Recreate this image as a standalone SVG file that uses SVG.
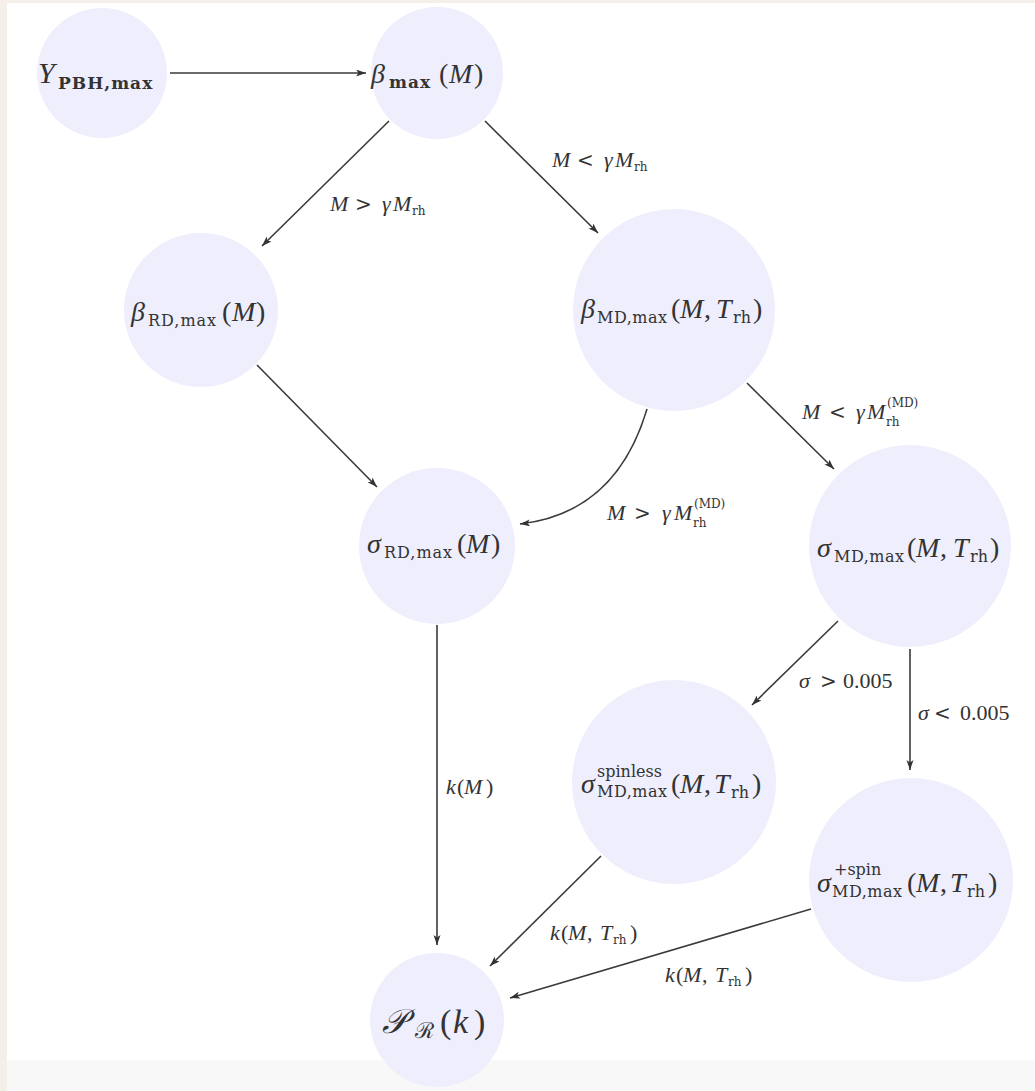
<svg xmlns="http://www.w3.org/2000/svg" width="1035" height="1091" viewBox="0 0 1035 1091">
<style>
.node{fill:#eeeefd}
.edge{fill:none;stroke:#3a3a3a;stroke-width:1.6}
text{font-family:"Liberation Serif","DejaVu Serif",serif;fill:#333}
.nl{font-size:28px}
.el{font-size:22px}
.i{font-style:italic}
.rel{font-family:"DejaVu Serif","Liberation Serif",serif;font-size:20px}
.s{font-family:"DejaVu Serif","Liberation Serif",serif;font-size:16px;font-style:normal}
.sb{font-family:"DejaVu Serif","Liberation Serif",serif;font-size:17px;font-style:normal;font-weight:bold}
.es{font-family:"DejaVu Serif","Liberation Serif",serif;font-size:12px;font-style:normal}
</style>
<defs>
<marker id="arr" markerUnits="userSpaceOnUse" markerWidth="11" markerHeight="8" refX="10" refY="3.5" orient="auto">
<path d="M0,0 L10,3.5 L0,7 L2.5,3.5 z" fill="#333"/>
</marker>
</defs>
<rect x="0" y="0" width="1035" height="1091" fill="#f4f0e9"/>
<rect x="7" y="3" width="1028" height="1057" fill="#ffffff"/>
<rect x="7" y="1060" width="1028" height="31" fill="#f8f8f8"/>

<g id="connectors">
<path class="edge" d="M170,73 L366,73" marker-end="url(#arr)"/>
<path class="edge" d="M389,121 L262,246" marker-end="url(#arr)"/>
<path class="edge" d="M485,121 L598,233" marker-end="url(#arr)"/>
<path class="edge" d="M257,365 L377,487" marker-end="url(#arr)"/>
<path class="edge" d="M647,409 Q616,513 520,524" marker-end="url(#arr)"/>
<path class="edge" d="M747,383 L834,469" marker-end="url(#arr)"/>
<path class="edge" d="M437,625 L437,945" marker-end="url(#arr)"/>
<path class="edge" d="M838,621 L752,705" marker-end="url(#arr)"/>
<path class="edge" d="M910,649 L910,770" marker-end="url(#arr)"/>
<path class="edge" d="M601,856 L490,966" marker-end="url(#arr)"/>
<path class="edge" d="M811,909 L510,998" marker-end="url(#arr)"/>
<text class="el" x="330" y="211"><tspan class="i">M</tspan><tspan class="rel" x="355">&gt;</tspan><tspan class="i" x="382">γ</tspan><tspan class="i" x="393">M</tspan><tspan class="es" x="412" dy="4">rh</tspan></text>
<text class="el" x="552" y="167"><tspan class="i">M</tspan><tspan class="rel" x="577">&lt;</tspan><tspan class="i" x="604">γ</tspan><tspan class="i" x="615">M</tspan><tspan class="es" x="634" dy="4">rh</tspan></text>
<text class="el" x="802" y="419"><tspan class="i">M</tspan><tspan class="rel" x="829">&lt;</tspan><tspan class="i" x="856">γ</tspan><tspan class="i" x="867">M</tspan><tspan class="es" x="886" dy="7">rh</tspan><tspan class="es" x="887" dy="-19">(MD)</tspan></text>
<text class="el" x="607" y="520"><tspan class="i">M</tspan><tspan class="rel" x="634">&gt;</tspan><tspan class="i" x="662">γ</tspan><tspan class="i" x="674">M</tspan><tspan class="es" x="693" dy="7">rh</tspan><tspan class="es" x="694" dy="-19">(MD)</tspan></text>
<text class="el" x="446" y="794"><tspan class="i">k</tspan><tspan x="457">(</tspan><tspan class="i" x="464">M</tspan><tspan x="486">)</tspan></text>
<text class="el" x="799" y="688"><tspan class="i">σ</tspan><tspan class="rel" x="820">&gt;</tspan><tspan x="843">0.005</tspan></text>
<text class="el" x="918" y="720"><tspan class="i">σ</tspan><tspan class="rel" x="934">&lt;</tspan><tspan x="960">0.005</tspan></text>
<text class="el" x="550" y="940"><tspan class="i">k</tspan><tspan x="561">(</tspan><tspan class="i" x="568">M</tspan><tspan x="587">,</tspan><tspan class="i" x="600">T</tspan><tspan class="es" x="613" dy="4">rh</tspan><tspan x="630" dy="-4">)</tspan></text>
<text class="el" x="665" y="982"><tspan class="i">k</tspan><tspan x="676">(</tspan><tspan class="i" x="683">M</tspan><tspan x="702">,</tspan><tspan class="i" x="715">T</tspan><tspan class="es" x="728" dy="4">rh</tspan><tspan x="745" dy="-4">)</tspan></text>
</g>

<g id="node-ypbh">
<circle class="node" cx="102" cy="73" r="65"/>
<text class="nl" x="38" y="83"><tspan class="i" font-size="30">Y</tspan><tspan class="sb" x="58" dy="6" letter-spacing="1">PBH,max</tspan></text>
</g>
<g id="node-beta-max">
<circle class="node" cx="437" cy="73" r="66"/>
<text class="nl" x="371" y="83"><tspan class="i">β</tspan><tspan class="sb" x="389" dy="5" letter-spacing="1">max</tspan><tspan x="439" dy="-5">(</tspan><tspan class="i" x="449">M</tspan><tspan x="474">)</tspan></text>
</g>
<g id="node-beta-rd">
<circle class="node" cx="201" cy="310" r="77"/>
<text class="nl" x="131" y="321"><tspan class="i">β</tspan><tspan class="s" x="148" dy="5" letter-spacing="1">RD,max</tspan><tspan x="222" dy="-5">(</tspan><tspan class="i" x="232">M</tspan><tspan x="256">)</tspan></text>
</g>
<g id="node-beta-md">
<circle class="node" cx="674" cy="310" r="101"/>
<text class="nl" x="581" y="318"><tspan class="i">β</tspan><tspan class="s" x="597" dy="5" letter-spacing="0.5">MD,max</tspan><tspan x="671" dy="-5">(</tspan><tspan class="i" x="680">M</tspan><tspan x="704">,</tspan><tspan class="i" x="716">T</tspan><tspan class="s" x="733" dy="5">rh</tspan><tspan x="753" dy="-5">)</tspan></text>
</g>
<g id="node-sigma-rd">
<circle class="node" cx="437" cy="546" r="78"/>
<text class="nl" x="367" y="553"><tspan class="i">σ</tspan><tspan class="s" x="384" dy="5" letter-spacing="1">RD,max</tspan><tspan x="457" dy="-5">(</tspan><tspan class="i" x="466">M</tspan><tspan x="491">)</tspan></text>
</g>
<g id="node-sigma-md">
<circle class="node" cx="910" cy="546" r="101"/>
<text class="nl" x="817" y="557"><tspan class="i">σ</tspan><tspan class="s" x="834" dy="5" letter-spacing="0.5">MD,max</tspan><tspan x="907" dy="-5">(</tspan><tspan class="i" x="916">M</tspan><tspan x="940">,</tspan><tspan class="i" x="953">T</tspan><tspan class="s" x="970" dy="5">rh</tspan><tspan x="990" dy="-5">)</tspan></text>
</g>
<g id="node-sigma-spinless">
<circle class="node" cx="674" cy="782" r="102"/>
<text class="nl" x="581" y="793"><tspan class="i">σ</tspan><tspan class="s" x="597" dy="-16" font-size="15">spinless</tspan><tspan class="s" x="597" dy="20" letter-spacing="0.5">MD,max</tspan><tspan x="671" dy="-4">(</tspan><tspan class="i" x="680">M</tspan><tspan x="704">,</tspan><tspan class="i" x="714">T</tspan><tspan class="s" x="731" dy="5">rh</tspan><tspan x="752" dy="-5">)</tspan></text>
</g>
<g id="node-sigma-spin">
<circle class="node" cx="911" cy="880" r="102"/>
<text class="nl" x="817" y="892"><tspan class="i">σ</tspan><tspan class="s" x="834" dy="-17" font-size="15">+spin</tspan><tspan class="s" x="832" dy="22" letter-spacing="0.5">MD,max</tspan><tspan x="907" dy="-5">(</tspan><tspan class="i" x="916">M</tspan><tspan x="940">,</tspan><tspan class="i" x="950">T</tspan><tspan class="s" x="967" dy="5">rh</tspan><tspan x="988" dy="-5">)</tspan></text>
</g>
<g id="node-power">
<circle class="node" cx="437" cy="1020" r="67"/>
<text x="382" y="1033" font-size="34"><tspan class="i">𝒫</tspan><tspan font-size="22" x="415" dy="5">ℛ</tspan><tspan x="440" dy="-5">(</tspan><tspan class="i" x="453">k</tspan><tspan x="474">)</tspan></text>
</g>
</svg>
